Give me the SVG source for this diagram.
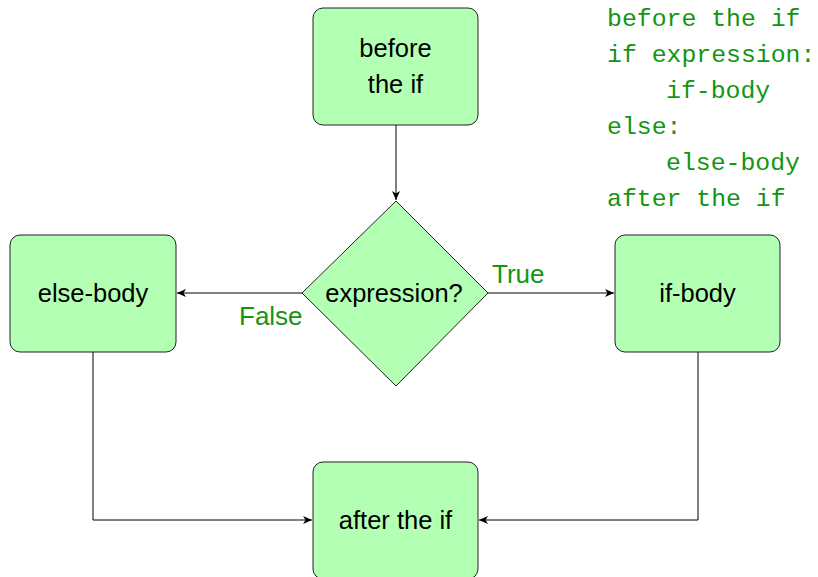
<svg xmlns="http://www.w3.org/2000/svg" width="818" height="577" viewBox="0 0 818 577">
<style>
.box{fill:#b3ffb3;stroke:#222;stroke-width:1}
.t{font-family:"Liberation Sans",Arial,sans-serif;font-size:25.5px;fill:#000;text-anchor:middle}
.lbl{font-family:"Liberation Sans",Arial,sans-serif;font-size:26px;fill:#129612}
.code{font-family:"Liberation Mono","Courier New",monospace;font-size:24.8px;fill:#129612}
.c{fill:none;stroke:#000;stroke-width:1}
</style>
<defs>
<marker id="ah" markerWidth="10" markerHeight="8" refX="9" refY="4" orient="auto" markerUnits="userSpaceOnUse">
<path d="M0,0 L9,4 L0,8 L2.5,4 Z" fill="#000"/>
</marker>
</defs>
<rect width="818" height="577" fill="#fff"/>
<g id="connectors">
<line class="c" x1="396" y1="125" x2="396" y2="200" marker-end="url(#ah)"/>
<line class="c" x1="302" y1="293" x2="177" y2="293" marker-end="url(#ah)"/>
<line class="c" x1="488" y1="293" x2="614" y2="293" marker-end="url(#ah)"/>
<polyline class="c" points="93,352 93,520 312,520" marker-end="url(#ah)"/>
<polyline class="c" points="698,352 698,520 479,520" marker-end="url(#ah)"/>
</g>
<g id="before">
<rect class="box" x="313" y="8" width="165" height="117" rx="10"/>
<text class="t" x="395.5" y="57">before</text>
<text class="t" x="395.5" y="93">the if</text>
</g>
<g id="expression">
<polygon class="box" points="396,201 488,293 396,386 302,293"/>
<text class="t" x="394" y="302">expression?</text>
</g>
<g id="else-body">
<rect class="box" x="10" y="235" width="166" height="117" rx="10"/>
<text class="t" x="93" y="302">else-body</text>
</g>
<g id="if-body">
<rect class="box" x="615" y="235" width="165" height="117" rx="10"/>
<text class="t" x="697.5" y="302">if-body</text>
</g>
<g id="after">
<rect class="box" x="313" y="462" width="165" height="117" rx="10"/>
<text class="t" x="395.5" y="529">after the if</text>
</g>
<g id="labels">
<text class="lbl" x="492" y="283">True</text>
<text class="lbl" x="239" y="325">False</text>
</g>
<g id="code">
<text class="code" x="607" y="26">before the if</text>
<text class="code" x="607" y="62">if expression:</text>
<text class="code" x="666" y="98">if-body</text>
<text class="code" x="607" y="134">else:</text>
<text class="code" x="666" y="170">else-body</text>
<text class="code" x="607" y="206">after the if</text>
</g>
</svg>
